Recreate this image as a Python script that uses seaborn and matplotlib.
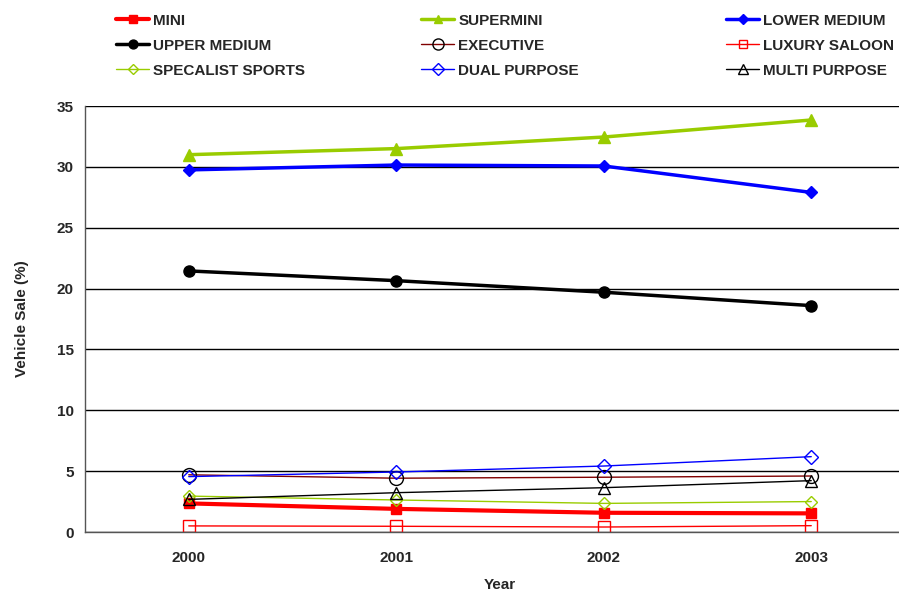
import numpy as np
import pandas as pd
import matplotlib
matplotlib.use("Agg")
import matplotlib.pyplot as plt
import seaborn as sns
from matplotlib.ticker import FixedLocator

years = ["2000", "2001", "2002", "2003"]

mini = [2.35, 1.9, 1.58, 1.53]
supermini = [31.0, 31.5, 32.45, 33.85]
lower_medium = [29.75, 30.15, 30.07, 27.9]
upper_medium = [21.45, 20.65, 19.7, 18.6]
executive = [4.7, 4.42, 4.5, 4.6]
luxury_saloon = [0.5, 0.47, 0.41, 0.52]
specalist_sports = [2.95, 2.63, 2.35, 2.5]
dual_purpose = [4.55, 4.93, 5.42, 6.19]
multi_purpose = [2.68, 3.23, 3.64, 4.22]

series = [
    ("MINI", mini),
    ("SUPERMINI", supermini),
    ("LOWER MEDIUM", lower_medium),
    ("UPPER MEDIUM", upper_medium),
    ("EXECUTIVE", executive),
    ("LUXURY SALOON", luxury_saloon),
    ("SPECALIST SPORTS", specalist_sports),
    ("DUAL PURPOSE", dual_purpose),
    ("MULTI PURPOSE", multi_purpose),
]

# line color, width, marker, marker face, marker edge, marker size
styles = {
    "MINI": ("#FF0000", 3.0, "s", "#FF0000", "#FF0000", 7.5),
    "SUPERMINI": ("#99CC00", 2.5, "^", "#99CC00", "#99CC00", 8),
    "LOWER MEDIUM": ("#0000FF", 2.5, "D", "#0000FF", "#0000FF", 6),
    "UPPER MEDIUM": ("#000000", 2.5, "o", "#000000", "#000000", 8),
    "EXECUTIVE": ("#800000", 1.0, "o", "none", "#000000", 10),
    "LUXURY SALOON": ("#FF0000", 1.0, "s", "none", "#FF0000", 8),
    "SPECALIST SPORTS": ("#99CC00", 1.0, "D", "none", "#99CC00", 6.5),
    "DUAL PURPOSE": ("#0000FF", 1.0, "D", "none", "#0000FF", 7.5),
    "MULTI PURPOSE": ("#000000", 1.0, "^", "none", "#000000", 9),
}

sns.set_style("white")
plt.rcParams["font.family"] = ["Liberation Sans", "DejaVu Sans"]
plt.rcParams["font.weight"] = "bold"

fig = plt.figure(figsize=(8.99, 5.92), dpi=100)
ax = fig.add_axes([85 / 899, 60 / 592, 830 / 899, 426 / 592])

handles = {}
for name, vals in series:
    df = pd.DataFrame({"Year": years, "Share": vals})
    c, lw, m, mfc, mec, ms = styles[name]
    sns.lineplot(data=df, x="Year", y="Share", ax=ax, color=c, linewidth=lw,
                 marker=m, markerfacecolor=mfc, markeredgecolor=mec,
                 markersize=ms, markeredgewidth=1.0, label=name)
    handles[name] = ax.get_lines()[-1]

ax.set_xlim(-0.5, 3.5)
ax.set_ylim(0, 35)
ax.set_yticks(np.arange(0, 36, 5))
ax.xaxis.set_minor_locator(FixedLocator([-0.5, 0.5, 1.5, 2.5, 3.5]))
ax.tick_params(axis="x", which="major", length=0, pad=14, labelsize=11)
ax.tick_params(axis="x", which="minor", length=6, width=1, color="#333333",
               direction="out")
ax.tick_params(axis="y", length=5, width=1, color="#333333", direction="out",
               labelsize=11, pad=3)
for lab in ax.get_xticklabels() + ax.get_yticklabels():
    lab.set_fontweight("bold")

ax.yaxis.grid(True, color="black", linewidth=1)
ax.set_axisbelow(True)
for s in ["top", "right"]:
    ax.spines[s].set_visible(False)
for s in ["left", "bottom"]:
    ax.spines[s].set_color("#555555")
    ax.spines[s].set_linewidth(1)

ax.set_xlabel("Year", fontsize=11, fontweight="bold", labelpad=9)
ax.set_ylabel("Vehicle Sale (%)", fontsize=11, fontweight="bold", labelpad=20)

ax.get_legend().remove()
cols = [
    ["MINI", "UPPER MEDIUM", "SPECALIST SPORTS"],
    ["SUPERMINI", "EXECUTIVE", "DUAL PURPOSE"],
    ["LOWER MEDIUM", "LUXURY SALOON", "MULTI PURPOSE"],
]
xs = [105, 410, 715]
for x0, names in zip(xs, cols):
    leg = fig.legend([handles[n] for n in names], names,
                     loc="upper left", bbox_to_anchor=(x0 / 899, 1 - 3 / 592),
                     frameon=False, fontsize=11, handlelength=2.2,
                     handletextpad=0.25, labelspacing=0.72, borderpad=0.2,
                     markerscale=0.8)
    for t in leg.get_texts():
        t.set_fontweight("bold")

fig.savefig("out.png", dpi=100)
